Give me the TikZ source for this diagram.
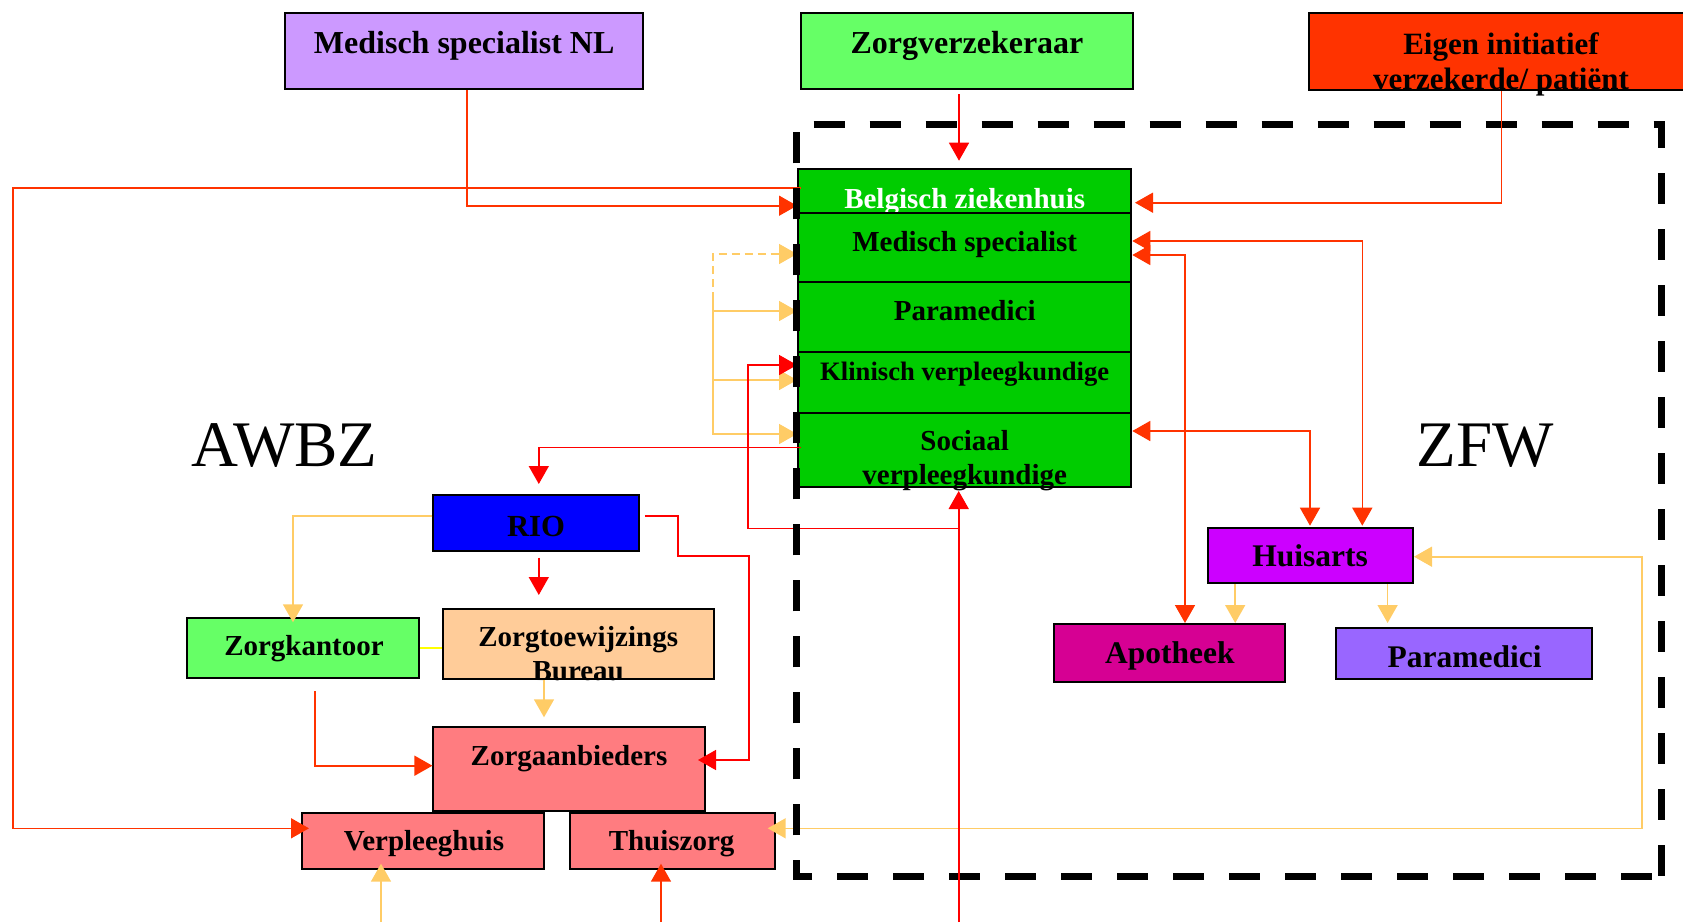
\documentclass[tikz,border=0pt]{standalone}
\usepackage{fontspec}
\setmainfont{Liberation Serif}
\usetikzlibrary{arrows.meta}

\definecolor{lila}{HTML}{CC99FF}
\definecolor{lichtgroen}{HTML}{66FF66}
\definecolor{oranjerood}{HTML}{FF3300}
\definecolor{groen}{HTML}{00CC00}
\definecolor{blauw}{HTML}{0000FF}
\definecolor{perzik}{HTML}{FFCC99}
\definecolor{zalm}{HTML}{FF7C80}
\definecolor{paars}{HTML}{CC00FF}
\definecolor{apomagenta}{HTML}{D60093}
\definecolor{lavendel}{HTML}{9966FF}
\definecolor{goud}{HTML}{FFCC66}
\definecolor{geel}{HTML}{FFFF00}
\definecolor{rood}{HTML}{FF0000}

\begin{document}
\begin{tikzpicture}[x=0.5pt, y=-0.5pt, >={Triangle[length=9pt,width=10pt]},
    box/.style={rectangle, draw=black, line width=1pt, inner sep=0pt},
    lbl/.style={anchor=base, inner sep=0pt, align=center, font=\bfseries\fontsize{14.5}{16.65}\selectfont},
    lblgroot/.style={lbl, font=\bfseries\fontsize{16}{18}\selectfont},
    lblmid/.style={lbl, font=\bfseries\fontsize{15.75}{18}\selectfont},
    wet/.style={anchor=base, inner sep=0pt, font=\fontsize{32.5}{36}\selectfont},
    lijn/.style={line width=0.8pt},
    kader/.style={line width=3.5pt, dash pattern=on 15.5pt off 12.5pt}]
    \useasboundingbox (0,0) rectangle (1683,922);

    \node[box, fill=lila, minimum width=179.15pt, minimum height=38.25pt] (msnl) at (463.85,50.75) {};
    \node[lblgroot] (msnl-l) at (464.2,53.3) {Medisch specialist NL};
    \node[box, fill=lichtgroen, minimum width=166pt, minimum height=38.25pt] (zv) at (967,50.75) {};
    \node[lblgroot] (zv-l) at (967,53) {Zorgverzekeraar};
    \node[box, fill=oranjerood, minimum width=195.75pt, minimum height=38.75pt] (eigen) at (1504.25,51.25) {};
    \node[lbl, font=\bfseries\fontsize{15.5}{17.5}\selectfont] (eigen-l) at (1501,89.5) {Eigen initiatief\\verzekerde/ patiënt};

    \node[box, fill=groen, minimum width=166.65pt, minimum height=22pt] (bz) at (964.65,191) {};
    \node[lbl, text=white] (bz-l) at (964.7,208) {Belgisch ziekenhuis};
    \node[box, fill=groen, minimum width=166.65pt, minimum height=34.65pt] (ms) at (964.65,247.65) {};
    \node[lbl] (ms-l) at (964.7,251.7) {Medisch specialist};
    \node[box, fill=groen, minimum width=166.65pt, minimum height=34.85pt] (pm) at (964.65,317.15) {};
    \node[lbl] (pm-l) at (964.7,320.7) {Paramedici};
    \node[box, fill=groen, minimum width=166.65pt, minimum height=30.65pt] (kv) at (964.65,382.65) {};
    \node[lbl, font=\bfseries\fontsize{13.3}{15}\selectfont] (kv-l) at (964.7,380) {Klinisch verpleegkundige};
    \node[box, fill=groen, minimum width=166.65pt, minimum height=37pt] (sv) at (964.65,450.3) {};
    \node[lbl, font=\bfseries\fontsize{14.5}{17.25}\selectfont] (sv-l) at (964.7,484.5) {Sociaal\\verpleegkundige};

    \node[box, fill=blauw, minimum width=102.7pt, minimum height=27.85pt] (rio) at (536.1,522.85) {};
    \node[lbl, font=\bfseries\fontsize{15.35}{17}\selectfont] (rio-l) at (536,536) {RIO};
    \node[box, fill=lichtgroen, minimum width=115.8pt, minimum height=30pt] (zk) at (303.1,647.7) {};
    \node[lbl] (zk-l) at (304,655) {Zorgkantoor};
    \node[box, fill=perzik, minimum width=135.65pt, minimum height=35pt] (ztb) at (578.65,644) {};
    \node[lbl] (ztb-l) at (578.2,680) {Zorgtoewijzings\\Bureau};
    \node[box, fill=zalm, minimum width=135.9pt, minimum height=42pt] (zab) at (569.3,768.7) {};
    \node[lbl] (zab-l) at (569,765) {Zorgaanbieders};
    \node[box, fill=zalm, minimum width=121.35pt, minimum height=28.15pt] (vh) at (422.85,841.15) {};
    \node[lbl] (vh-l) at (424,850) {Verpleeghuis};
    \node[box, fill=zalm, minimum width=102.25pt, minimum height=28.15pt] (tz) at (672.25,841.15) {};
    \node[lbl] (tz-l) at (671.6,850) {Thuiszorg};

    \node[box, fill=paars, minimum width=102.6pt, minimum height=27.5pt] (ha) at (1310.4,555.8) {};
    \node[lblmid] (ha-l) at (1310,566.7) {Huisarts};
    \node[box, fill=apomagenta, minimum width=115.65pt, minimum height=28.85pt] (apo) at (1169.65,652.85) {};
    \node[lblmid] (apo-l) at (1169.9,663.3) {Apotheek};
    \node[box, fill=lavendel, minimum width=128.05pt, minimum height=25.35pt] (pmz) at (1464.25,653.65) {};
    \node[lblmid] (pmz-l) at (1464.7,667.3) {Paramedici};

    \node[wet] (awbz) at (284.5,466.9) {AWBZ};
    \node[wet] (zfw) at (1485.5,466.9) {ZFW};

    \coordinate (haak) at (712.7,300);
    \coordinate (onder) at (958.7,922);

    \draw[lijn, oranjerood, ->, shorten <=-1.85pt, shorten >=-4.25pt] (bz.west |- 0,187.7) -| (12.7,828.3) -- (vh.west |- 0,828.3);
    \draw[lijn, oranjerood, ->] (msnl.south -| 467,0) |- (bz.west |- 0,205.7);
    \draw[lijn, rood, ->, shorten <=2pt, shorten >=3.65pt] (zv.south -| 959,0) -- (bz.north -| 959,0);
    \draw[lijn, goud, dash pattern=on 4pt off 2.5pt, ->] (haak) |- (ms.west |- 0,254);
    \draw[lijn, goud, ->] (haak) |- (sv.west |- 0,434);
    \draw[lijn, goud, ->] (haak |- 0,311) -- (pm.west |- 0,311);
    \draw[lijn, goud, ->] (haak |- 0,380) -- (kv.west |- 0,380);
    \draw[lijn, rood, ->] (onder |- 0,528.6) -| (747.7,365) -- (kv.west |- 0,365);
    \draw[lijn, rood, ->, shorten <=-1.85pt, shorten >=5pt] (sv.west |- 0,447.4) -| (rio.north -| 538.8,0);
    \draw[lijn, rood, ->, shorten <=3pt, shorten >=6.5pt] (rio.south -| 538.8,0) -- (ztb.north -| 538.8,0);
    \draw[lijn, goud, ->, shorten >=-2.8pt] (rio.west |- 0,515.7) -| (zk.north -| 293,0);
    \draw[lijn, geel] (zk.east) -- (ztb.west |- zk.east);
    \draw[lijn, goud, ->, shorten >=4.2pt] (ztb.south -| 544,0) -- (zab.north -| 544,0);
    \draw[lijn, oranjerood, ->, shorten <=6.15pt] (zk.south -| 315,0) |- (zab.west |- 0,765.7);
    \draw[lijn, rood, ->, shorten <=2.5pt, shorten >=-4.1pt] (rio.east |- 0,515.7) -- (678,515.7) |- (748.8,556) |- (zab.east |- 0,760);
    \draw[lijn, goud, ->, shorten >=-3.3pt] (381,922) -- (vh.south -| 381,0);
    \draw[lijn, oranjerood, ->, shorten >=-3.3pt] (661,922) -- (tz.south -| 661,0);
    \draw[lijn, goud, <->, shorten <=-3.9pt] (tz.east |- 0,828.3) -| (1642,556.7) -- (ha.east |- 0,556.7);
    \draw[lijn, goud, ->] (ha.south -| 1235.2,0) -- (apo.north -| 1235.2,0);
    \draw[lijn, goud, ->, shorten >=2.15pt] (ha.south -| 1387.6,0) -- (pmz.north -| 1387.6,0);
    \draw[lijn, oranjerood, <->] (ms.east |- 0,255) -| (apo.north -| 1185,0);
    \draw[lijn, oranjerood, <->, shorten >=0.8pt] (ms.east |- 0,241) -| (ha.north -| 1362.3,0);
    \draw[lijn, oranjerood, <->, shorten >=0.8pt] (sv.east |- 0,431) -| (ha.north -| 1310,0);

    \draw[kader] (812,876) -- (796.7,876) -- (796.7,124.3) -- (1661,124.3) -- (1661,876);
    \draw[kader, dash phase=15.5pt] (812,876) -- (1661,876);

    \draw[lijn, rood, ->, shorten >=1.35pt] (onder) -- (sv.south -| onder);
    \draw[lijn, oranjerood, ->, shorten >=1.35pt] (eigen.south -| 1501.3,0) |- (bz.east |- 0,202.7);
\end{tikzpicture}
\end{document}
